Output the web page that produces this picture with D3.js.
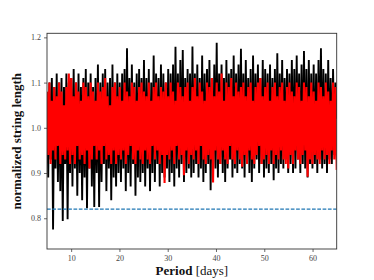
<!DOCTYPE html>
<html>
<head>
<meta charset="utf-8">
<script src="https://cdn.jsdelivr.net/npm/d3@7"></script>
<style>
  body { margin: 0; background: #fff; }
  svg { display: block; }
</style>
</head>
<body>
<div id="chart"></div>
<script>
// chart size
var width = 374, height = 280;
var plot = {left: 47, right: 336.7, top: 33.3, bottom: 249};

// tick labels
var xTicks = [10, 20, 30, 40, 50, 60];
var yTicks = [0.8, 0.9, 1.0, 1.1, 1.2];

// threshold shown as dashed line
var threshold = 0.82;

// period grid (days), evenly sampled from 5 to 65
var periodMin = 5, periodMax = 65;

// black series: normalized string length
var blackValues = [
  1.06, 0.89, 1.10, 0.93, 1.11, 0.775, 1.09, 0.91, 1.12, 0.88, 1.10, 0.86, 1.11, 0.794, 1.09, 0.92, 1.12, 0.798, 1.10, 0.90,
  1.11, 0.87, 1.13, 0.91, 1.10, 0.85, 1.12, 0.90, 1.09, 0.84, 1.11, 0.89, 1.13, 0.822, 1.10, 0.91, 1.12, 0.87, 1.09, 0.825,
  1.11, 0.90, 1.14, 0.825, 1.10, 0.88, 1.12, 0.92, 1.13, 0.86, 1.10, 0.91, 1.11, 0.84, 1.14, 0.89, 1.10, 0.87, 1.12, 0.90,
  1.10, 0.88, 1.12, 0.91, 1.13, 0.86, 1.176, 0.90, 1.11, 0.87, 1.14, 0.92, 1.10, 0.85, 1.12, 0.89, 1.13, 0.88, 1.11, 0.90,
  1.15, 0.87, 1.11, 0.91, 1.13, 0.86, 1.10, 0.90, 1.16, 0.88, 1.12, 0.92, 1.11, 0.87, 1.14, 0.90, 1.12, 0.89, 1.10, 0.91,
  1.13, 0.88, 1.12, 0.90, 1.14, 0.87, 1.179, 0.91, 1.12, 0.89, 1.15, 0.92, 1.172, 0.88, 1.11, 0.90, 1.13, 0.91, 1.12, 0.89,
  1.18, 0.90, 1.12, 0.92, 1.14, 0.89, 1.11, 0.91, 1.16, 0.88, 1.12, 0.90, 1.13, 0.92, 1.15, 0.862, 1.11, 0.90, 1.14, 0.91,
  1.188, 0.89, 1.12, 0.92, 1.14, 0.90, 1.11, 0.88, 1.15, 0.91, 1.12, 0.93, 1.13, 0.89, 1.16, 0.91, 1.12, 0.90, 1.14, 0.92,
  1.175, 0.91, 1.12, 0.89, 1.15, 0.92, 1.11, 0.90, 1.13, 0.88, 1.16, 0.91, 1.12, 0.93, 1.14, 0.90, 1.11, 0.92, 1.15, 0.89,
  1.13, 0.91, 1.12, 0.90, 1.14, 0.92, 1.11, 0.884, 1.13, 0.91, 1.165, 0.90, 1.12, 0.92, 1.15, 0.91, 1.11, 0.93, 1.13, 0.90,
  1.12, 0.92, 1.15, 0.90, 1.13, 0.91, 1.16, 0.93, 1.12, 0.90, 1.14, 0.92, 1.17, 0.91, 1.13, 0.89, 1.15, 0.92, 1.12, 0.91,
  1.14, 0.92, 1.12, 0.90, 1.15, 0.93, 1.176, 0.91, 1.13, 0.92, 1.12, 0.90, 1.15, 0.93, 1.11, 0.92, 1.13, 0.94, 1.10, 1.02
];

// red series
var redValues = [
  1.08, 0.94, 1.10, 0.92, 1.06, 0.95, 1.09, 0.93, 1.07, 0.96, 1.10, 0.92, 1.08, 0.94, 1.05, 0.93, 1.09, 0.95, 1.12, 0.92,
  1.11, 0.94, 1.07, 0.92, 1.10, 0.96, 1.08, 0.93, 1.06, 0.94, 1.10, 0.92, 1.09, 0.95, 1.07, 0.91, 1.10, 0.93, 1.08, 0.96,
  1.06, 0.93, 1.10, 0.95, 1.08, 0.92, 1.09, 0.96, 1.11, 0.93, 1.07, 0.94, 1.05, 0.92, 1.09, 0.95, 1.10, 0.92, 1.07, 0.94,
  1.09, 0.93, 1.06, 0.95, 1.10, 0.92, 1.08, 0.94, 1.07, 0.96, 1.10, 0.93, 1.09, 0.92, 1.06, 0.95, 1.09, 0.93, 1.10, 0.92,
  1.08, 0.95, 1.07, 0.93, 1.10, 0.92, 1.06, 0.96, 1.09, 0.93, 1.10, 0.95, 1.07, 0.92, 1.09, 0.94, 1.08, 0.878, 1.10, 0.94,
  1.07, 0.93, 1.10, 0.95, 1.08, 0.92, 1.06, 0.96, 1.10, 0.93, 1.09, 0.94, 1.07, 0.895, 1.09, 0.95, 1.10, 0.92, 1.06, 0.94,
  1.09, 0.93, 1.11, 0.95, 1.07, 0.92, 1.10, 0.96, 1.08, 0.93, 1.06, 0.92, 1.10, 0.94, 1.09, 0.93, 1.11, 0.879, 1.07, 0.95,
  1.10, 0.93, 1.08, 0.92, 1.12, 0.95, 1.06, 0.93, 1.10, 0.92, 1.09, 0.96, 1.11, 0.93, 1.07, 0.92, 1.10, 0.95, 1.08, 0.93,
  1.09, 0.914, 1.10, 0.94, 1.07, 0.92, 1.09, 0.95, 1.10, 0.93, 1.06, 0.92, 1.09, 0.94, 1.10, 0.96, 1.11, 0.92, 1.07, 0.93,
  1.09, 0.94, 1.10, 0.92, 1.06, 0.95, 1.09, 0.92, 1.10, 0.94, 1.07, 0.93, 1.09, 0.95, 1.10, 0.93, 1.06, 0.92, 1.09, 0.91,
  1.10, 0.94, 1.08, 0.92, 1.07, 0.95, 1.10, 0.93, 1.09, 0.92, 1.06, 0.94, 1.10, 0.95, 1.09, 0.892, 1.07, 0.93, 1.10, 0.92,
  1.08, 0.94, 1.06, 0.93, 1.10, 0.92, 1.09, 0.95, 1.07, 0.93, 1.10, 0.94, 1.08, 0.92, 1.06, 0.95, 1.10, 0.93, 1.09, 0.907
];

var periods = blackValues.map(function(d, i){
  return periodMin + i * (periodMax - periodMin) / (blackValues.length - 1);
});

var svg = d3.select("#chart")
  .append("svg")
    .attr("width", width)
    .attr("height", height);

var x = d3.scaleLinear().domain([5, 65]).range([plot.left, plot.right]);
var y = d3.scaleLinear().domain([0.732, 1.209]).range([plot.bottom, plot.top]);

svg.append("clipPath")
    .attr("id", "clip")
  .append("rect")
    .attr("x", plot.left)
    .attr("y", plot.top)
    .attr("width", plot.right - plot.left)
    .attr("height", plot.bottom - plot.top);

var line = d3.line()
  .x(function(d){ return x(d[0]); })
  .y(function(d){ return y(d[1]); });

var lines = svg.append("g").attr("clip-path", "url(#clip)");

lines.append("path")
  .datum(periods.map(function(p, i){ return [p, blackValues[i]]; }))
  .attr("d", line)
  .attr("fill", "none")
  .attr("stroke", "#000")
  .attr("stroke-width", 1.9)
  .attr("stroke-linejoin", "miter");

lines.append("path")
  .datum(periods.map(function(p, i){ return [p, redValues[i]]; }))
  .attr("d", line)
  .attr("fill", "none")
  .attr("stroke", "#ff0000")
  .attr("stroke-width", 2.1)
  .attr("stroke-linejoin", "miter");

// dashed threshold
lines.append("line")
  .attr("x1", x(5))
  .attr("x2", x(65))
  .attr("y1", y(threshold))
  .attr("y2", y(threshold))
  .attr("stroke", "#1f77b4")
  .attr("stroke-width", 1.2)
  .attr("stroke-dasharray", "3.7,1.6");

// axes
var xAxis = svg.append("g")
  .attr("transform", "translate(0," + plot.bottom + ")")
  .call(d3.axisBottom(x).tickValues(xTicks).tickSize(3).tickPadding(3).tickFormat(d3.format("d")));

var yAxis = svg.append("g")
  .attr("transform", "translate(" + plot.left + ",0)")
  .call(d3.axisLeft(y).tickValues(yTicks).tickSize(3).tickPadding(3).tickFormat(d3.format(".1f")));

[xAxis, yAxis].forEach(function(a){
  a.select(".domain").remove();
  a.selectAll("line").attr("stroke", "#444").attr("stroke-width", 0.8);
  a.selectAll("text")
    .attr("fill", "#444")
    .style("font-family", "'Liberation Serif', serif")
    .style("font-size", "8px");
});

// frame
svg.append("rect")
  .attr("x", plot.left)
  .attr("y", plot.top)
  .attr("width", plot.right - plot.left)
  .attr("height", plot.bottom - plot.top)
  .attr("fill", "none")
  .attr("stroke", "#333")
  .attr("stroke-width", 0.9);

// axis labels
var xlab = svg.append("text")
  .attr("x", (plot.left + plot.right) / 2)
  .attr("y", 275)
  .attr("text-anchor", "middle")
  .style("font-family", "'Liberation Serif', serif")
  .style("font-size", "13px")
  .attr("fill", "#111");
xlab.append("tspan").style("font-weight", "bold").text("Period");
xlab.append("tspan").text(" [days]");

svg.append("text")
  .attr("transform", "translate(21," + ((plot.top + plot.bottom) / 2) + ") rotate(-90)")
  .attr("text-anchor", "middle")
  .style("font-family", "'Liberation Serif', serif")
  .style("font-size", "13px")
  .style("font-weight", "bold")
  .attr("fill", "#111")
  .text("normalized string length");
</script>
</body>
</html>
